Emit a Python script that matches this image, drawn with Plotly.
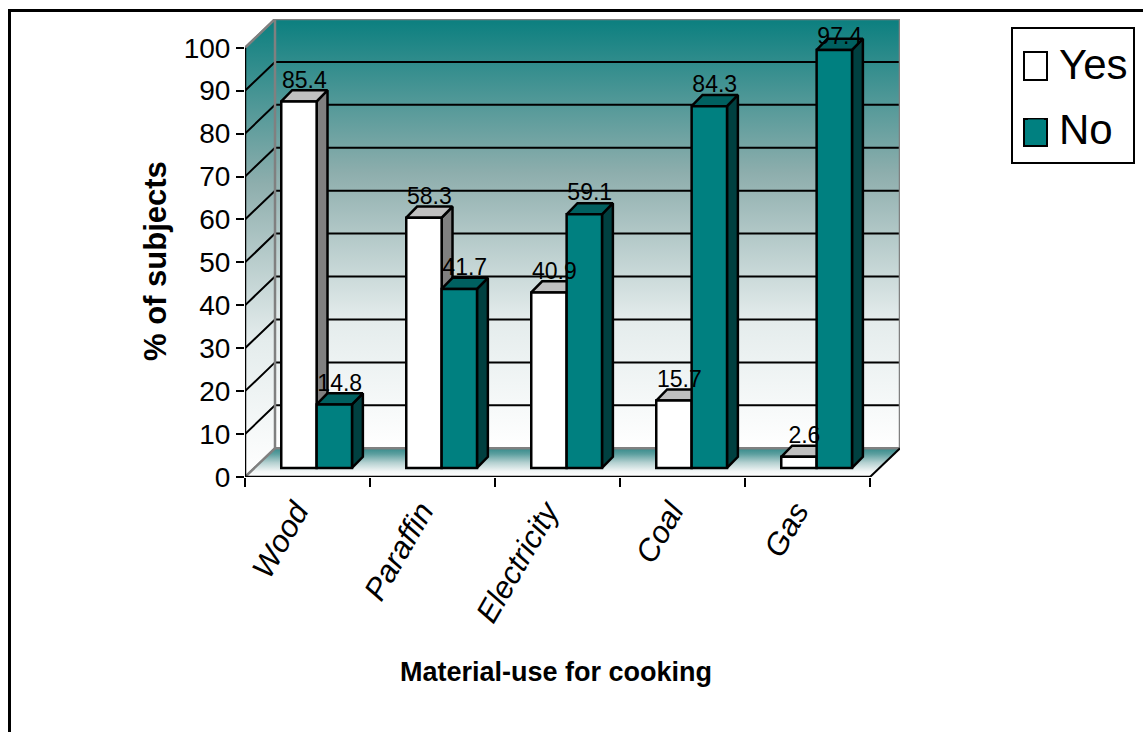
import plotly.graph_objects as go

# Cooking material survey: share of subjects answering yes / no
categories = ["Wood", "Paraffin", "Electricity", "Coal", "Gas"]
yes_values = [85.4, 58.3, 40.9, 15.7, 2.6]
no_values = [14.8, 41.7, 59.1, 84.3, 97.4]
y_ticks = list(range(0, 101, 10))

TEAL = "#008080"
SANS = "Liberation Sans, Arial, sans-serif"

# Box-depth illusion, in axis units
WALL_DX, WALL_DY = 0.24, 6.7      # room depth
BAR_DX, BAR_DY = 0.087, 2.6       # bar depth
BAR_W = 0.283
FLOOR_LIFT = 2.1                  # bars stand part-way into the floor
BAR_START = 0.29                  # first bar's left edge inside each category
LABEL_CEILING = 100.2             # labels stay below the top of the wall
LABEL_DROP = 0.7                  # labels overlap the top face slightly

n = len(categories)
W, H = 1143, 732
L, R, T, B = 245, 900, 19, 477
x_max, y_max = n + WALL_DX, 100 + WALL_DY


def paper_x(px):
    return (px - L) / (R - L)


def paper_y(px):
    return (B - px) / (B - T)


def flat(polys):
    xs, ys = [], []
    for poly in polys:
        for px, py in poly:
            xs.append(px)
            ys.append(py)
        xs.append(None)
        ys.append(None)
    return xs, ys


def faces(values, offset):
    """Side and top faces of one series' bars."""
    side, top = [], []
    for i, v in enumerate(values):
        x0 = i + offset
        x1 = x0 + BAR_W
        low = FLOOR_LIFT
        high = FLOOR_LIFT + v
        side.append([(x1, low), (x1 + BAR_DX, low + BAR_DY),
                     (x1 + BAR_DX, high + BAR_DY), (x1, high), (x1, low)])
        top.append([(x0, high), (x0 + BAR_DX, high + BAR_DY),
                    (x1 + BAR_DX, high + BAR_DY), (x1, high), (x0, high)])
    return side, top


fig = go.Figure()


def poly_trace(xs, ys, fill=None, gradient=None, line="black", width=2.5, zorder=0):
    kw = dict(x=xs, y=ys, mode="lines", fill="toself", cliponaxis=False,
              line=dict(color=line, width=width), hoverinfo="skip",
              showlegend=False, zorder=zorder)
    if gradient is not None:
        kw["fillgradient"] = gradient
    else:
        kw["fillcolor"] = fill
    fig.add_trace(go.Scatter(**kw))


def line_trace(xs, ys, color="black", width=2, zorder=0):
    fig.add_trace(go.Scatter(x=xs, y=ys, mode="lines", cliponaxis=False,
                             line=dict(color=color, width=width),
                             hoverinfo="skip", showlegend=False, zorder=zorder))


wall_scale = [[0, "#ffffff"], [0.3, "#e4ecec"], [0.64, "#8eaead"], [1, "#0b7f7f"]]
floor_scale = [[0, "#ffffff"], [0.2, "#f2f6f6"], [0.5, "#b4d0d0"], [0.8, "#5c9f9f"], [1, "#358a8a"]]

# Back wall, left wall and floor
poly_trace([WALL_DX, x_max, x_max, WALL_DX, WALL_DX],
           [WALL_DY, WALL_DY, y_max, y_max, WALL_DY],
           gradient=dict(type="vertical", colorscale=wall_scale, start=WALL_DY, stop=y_max),
           line="#808080", width=2)
poly_trace([0, WALL_DX, WALL_DX, 0, 0], [0, WALL_DY, y_max, 100, 0],
           gradient=dict(type="vertical", colorscale=wall_scale, start=0, stop=y_max),
           line="#808080", width=2)
poly_trace([0, n, x_max, WALL_DX, 0], [0, 0, WALL_DY, WALL_DY, 0],
           gradient=dict(type="vertical", colorscale=floor_scale, start=0, stop=WALL_DY),
           line="rgba(0,0,0,0)", width=0)

# Gridlines run along the back wall and down the left wall
grid_x, grid_y = [], []
for v in y_ticks[1:-1]:
    grid_x += [0, WALL_DX, x_max, None]
    grid_y += [v, v + WALL_DY, v + WALL_DY, None]
line_trace(grid_x, grid_y)

# Redraw the room's edges over the gridline ends
line_trace([0, WALL_DX, None, WALL_DX, WALL_DX, None, WALL_DX, x_max, x_max, None, 0, WALL_DX, x_max],
           [100, y_max, None, WALL_DY, y_max, None, y_max, y_max, WALL_DY, None, 0, WALL_DY, WALL_DY],
           color="#808080", width=2.5)
line_trace([n, x_max], [0, WALL_DY])

# Axis lines stop at the front of the room
line_trace([0, 0], [0, 100], zorder=1, width=2.5)
line_trace([0, n], [0, 0], zorder=1, width=2.5)

# Bars: back faces first so each front bar covers its neighbour's side
yes_side, yes_top = faces(yes_values, BAR_START)
no_side, no_top = faces(no_values, BAR_START + BAR_W)

poly_trace(*flat(yes_side), fill="#808080", zorder=2)
poly_trace(*flat(yes_top), fill="#c0c0c0", zorder=2)
fig.add_trace(go.Bar(x=[i + BAR_START + BAR_W / 2 for i in range(n)], y=yes_values,
                     base=FLOOR_LIFT, width=BAR_W, marker=dict(color="white", line=dict(color="black", width=2.5)),
                     showlegend=False, cliponaxis=False, zorder=3, name="Yes"))
poly_trace(*flat(no_side), fill="#004040", zorder=4)
poly_trace(*flat(no_top), fill="#006060", zorder=4)
fig.add_trace(go.Bar(x=[i + BAR_START + 1.5 * BAR_W for i in range(n)], y=no_values,
                     base=FLOOR_LIFT, width=BAR_W, marker=dict(color=TEAL, line=dict(color="black", width=2.5)),
                     showlegend=False, cliponaxis=False, zorder=5, name="No"))

# Value labels sit on the back edge of each bar's top face
for values, offset in ((yes_values, BAR_START), (no_values, BAR_START + BAR_W)):
    fig.add_trace(go.Scatter(
        x=[i + offset + (BAR_W + BAR_DX) / 2 for i in range(n)],
        y=[min(FLOOR_LIFT + v + BAR_DY, LABEL_CEILING) - LABEL_DROP for v in values],
        text=[f"{v:g}" for v in values], mode="text", textposition="top center",
        textfont=dict(family=SANS, size=23, color="black"),
        cliponaxis=False, hoverinfo="skip", showlegend=False, zorder=6))

# Legend entries: swatch outlines are drawn as shapes just beneath the legend
for name, color in (("Yes", "white"), ("No", TEAL)):
    fig.add_trace(go.Scatter(x=[None], y=[None], mode="markers", name=name, legendgroup=name,
                             marker=dict(symbol="square", size=16, color=color)))

shapes = [
    # Outer frame, running off the page at right and bottom
    dict(type="line", xref="paper", yref="paper", x0=paper_x(9), x1=paper_x(W + 5),
         y0=paper_y(10.5), y1=paper_y(10.5), line=dict(color="black", width=3)),
    dict(type="line", xref="paper", yref="paper", x0=paper_x(9.5), x1=paper_x(9.5),
         y0=paper_y(9), y1=paper_y(H + 5), line=dict(color="black", width=3)),
    # Legend swatches
    dict(type="rect", xref="paper", yref="paper", x0=paper_x(1024), x1=paper_x(1047),
         y0=paper_y(52), y1=paper_y(80), fillcolor="white", line=dict(color="black", width=2)),
    dict(type="rect", xref="paper", yref="paper", x0=paper_x(1024), x1=paper_x(1047),
         y0=paper_y(119), y1=paper_y(146), fillcolor=TEAL, line=dict(color="black", width=2)),
]

# Axis captions are centred on the front of the room, not on the plot area
annotations = [
    dict(text="<b>Material-use for cooking</b>", xref="paper", yref="paper",
         x=paper_x(555.5), y=paper_y(672), xanchor="center", yanchor="middle",
         showarrow=False, font=dict(family=SANS, size=27)),
    dict(text="<b>% of subjects</b>", xref="paper", yref="paper",
         x=paper_x(155), y=paper_y(261), xanchor="center", yanchor="middle",
         textangle=-90, showarrow=False, font=dict(family=SANS, size=31)),
]

fig.update_layout(
    width=W, height=H, barmode="overlay", plot_bgcolor="white", paper_bgcolor="white",
    margin=dict(l=L, r=W - R, t=T, b=H - B, autoexpand=False),
    shapes=shapes, annotations=annotations,
    font=dict(family=SANS, color="black"),
    legend=dict(x=paper_x(1011), y=paper_y(27), xanchor="left", yanchor="top",
                bgcolor="rgba(0,0,0,0)", bordercolor="black", borderwidth=2,
                font=dict(family=SANS, size=42), tracegroupgap=7, itemwidth=36, itemclick=False),
    xaxis=dict(
        range=[0, x_max], showgrid=False, zeroline=False, showline=False,
        tickmode="array", tickvals=[i + 0.41 for i in range(n)], ticktext=categories,
        ticks="", tickangle=-60, ticklabelstandoff=9,
        tickfont=dict(family=SANS, size=31, style="italic"),
        minor=dict(tickmode="array", tickvals=list(range(n + 1)), ticks="outside",
                   ticklen=9, tickwidth=2, tickcolor="black", showgrid=False),
    ),
    yaxis=dict(
        range=[0, y_max], showgrid=False, zeroline=False, showline=False,
        tickmode="array", tickvals=y_ticks, ticks="outside", ticklen=8, tickwidth=2,
        tickcolor="black", tickfont=dict(family=SANS, size=28),
    ),
)

fig.write_html("out.html")
